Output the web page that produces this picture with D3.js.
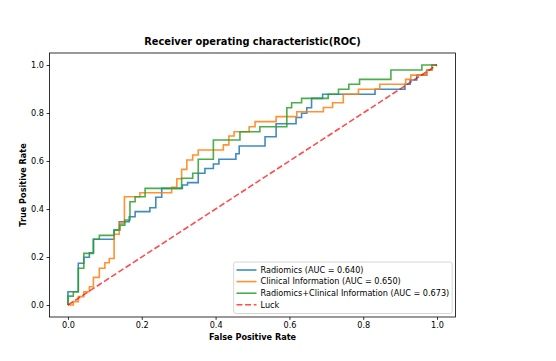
<!DOCTYPE html>
<html>
<head>
<meta charset="utf-8">
<script src="https://cdn.jsdelivr.net/npm/d3@7"></script>
<style>
  body { margin: 0; background: #fff; }
  text { font-family: "DejaVu Sans", sans-serif; fill: #000; }
</style>
</head>
<body>
<svg id="chart" width="556" height="361"></svg>
<script>
// ROC points (corner after each rise)
var radiomicsFpr = [0, 0, 0.028, 0.043, 0.058, 0.069, 0.125, 0.139, 0.166, 0.182, 0.222, 0.238, 0.254, 0.31, 0.324, 0.353, 0.371, 0.394, 0.409, 0.455, 0.464, 0.534, 0.564, 0.618, 0.633, 0.647, 0.66, 0.69, 0.832, 0.913, 0.927, 0.945, 0.972, 0.986, 1];
var radiomicsTpr = [0, 0.055, 0.174, 0.199, 0.218, 0.274, 0.3125, 0.347, 0.368, 0.389, 0.405, 0.449, 0.486, 0.5, 0.51, 0.549, 0.569, 0.5875, 0.607, 0.63, 0.6625, 0.701, 0.755, 0.781, 0.799, 0.822, 0.861, 0.878, 0.899, 0.92, 0.9375, 0.958, 0.979, 1, 1];

var clinicalFpr = [0, 0.0145, 0.028, 0.043, 0.058, 0.069, 0.085, 0.1, 0.112, 0.125, 0.139, 0.153, 0.195, 0.281, 0.295, 0.308, 0.322, 0.338, 0.353, 0.421, 0.436, 0.45, 0.491, 0.507, 0.564, 0.62, 0.692, 0.717, 0.746, 0.787, 0.845, 0.915, 0.929, 0.972, 0.986, 1];
var clinicalTpr = [0, 0.014, 0.035, 0.055, 0.076, 0.115, 0.153, 0.176, 0.194, 0.295, 0.34, 0.451, 0.468, 0.49, 0.526, 0.565, 0.604, 0.625, 0.646, 0.667, 0.704, 0.722, 0.743, 0.764, 0.785, 0.805, 0.823, 0.843, 0.878, 0.899, 0.92, 0.94, 0.958, 0.979, 1, 1];

var combinedFpr = [0, 0, 0.0145, 0.028, 0.043, 0.069, 0.085, 0.125, 0.141, 0.154, 0.168, 0.182, 0.209, 0.308, 0.338, 0.353, 0.394, 0.466, 0.52, 0.593, 0.606, 0.633, 0.705, 0.733, 0.761, 0.79, 0.875, 0.959, 1];
var combinedTpr = [0, 0.037, 0.055, 0.153, 0.215, 0.274, 0.29, 0.3125, 0.333, 0.354, 0.43, 0.451, 0.486, 0.528, 0.549, 0.607, 0.6875, 0.722, 0.743, 0.822, 0.843, 0.861, 0.878, 0.899, 0.92, 0.94, 0.979, 1, 1];

var seriesNames = ["Radiomics (AUC = 0.640)", "Clinical Information (AUC = 0.650)", "Radiomics+Clinical Information (AUC = 0.673)"];
var luckName = "Luck";
var ticks = [0, 0.2, 0.4, 0.6, 0.8, 1.0];
var colors = ["#1f77b4", "#ff7f0e", "#2ca02c"];

var svg = d3.select("#chart");

var x = d3.scaleLinear().domain([-0.05, 1.05]).range([49.5, 455.5]);
var y = d3.scaleLinear().domain([-0.05, 1.05]).range([317, 53]);

var fs = 8.15;

// axes
var xAxis = svg.append("g")
    .attr("transform", "translate(0,317)")
    .call(d3.axisBottom(x).tickValues(ticks).tickFormat(d3.format(".1f")).tickSize(2.9).tickSizeOuter(0).tickPadding(2.6));
var yAxis = svg.append("g")
    .attr("transform", "translate(49.5,0)")
    .call(d3.axisLeft(y).tickValues(ticks).tickFormat(d3.format(".1f")).tickSize(2.9).tickSizeOuter(0).tickPadding(2.6));

[xAxis, yAxis].forEach(function(g) {
  g.select(".domain").remove();
  g.selectAll("text").attr("font-size", fs).attr("font-family", "DejaVu Sans").attr("fill", "#000");
  g.selectAll("line").attr("stroke", "#000").attr("stroke-width", 0.8);
});

// curves
var line = d3.line()
    .x(function(d) { return x(d[0]); })
    .y(function(d) { return y(d[1]); })
    .curve(d3.curveStepAfter);

var series = [
  d3.zip(radiomicsFpr, radiomicsTpr),
  d3.zip(clinicalFpr, clinicalTpr),
  d3.zip(combinedFpr, combinedTpr)
];

svg.append("g")
  .selectAll("path")
  .data(series)
  .enter().append("path")
    .attr("d", line)
    .attr("fill", "none")
    .attr("stroke", function(d, i) { return colors[i]; })
    .attr("stroke-width", 1.6)
    .attr("stroke-opacity", 0.85);

svg.append("path")
    .attr("d", d3.line().x(d => x(d[0])).y(d => y(d[1]))([[0, 0], [1, 1]]))
    .attr("fill", "none")
    .attr("stroke", "#ff0000")
    .attr("stroke-opacity", 0.7)
    .attr("stroke-width", 1.6)
    .attr("stroke-dasharray", "6,2.6");

// frame
svg.append("rect")
    .attr("x", 49.5).attr("y", 53)
    .attr("width", 406).attr("height", 264)
    .attr("fill", "none")
    .attr("stroke", "#000")
    .attr("stroke-width", 0.8);

// titles
svg.append("text")
    .attr("x", 252.5).attr("y", 44.5)
    .attr("text-anchor", "middle")
    .attr("font-size", 9.8)
    .attr("font-weight", "bold")
    .text("Receiver operating characteristic(ROC)");

svg.append("text")
    .attr("x", 252.5).attr("y", 340)
    .attr("text-anchor", "middle")
    .attr("font-size", fs)
    .attr("font-weight", "bold")
    .text("False Positive Rate");

svg.append("text")
    .attr("transform", "translate(25.5,185) rotate(-90)")
    .attr("text-anchor", "middle")
    .attr("font-size", fs)
    .attr("font-weight", "bold")
    .text("True Positive Rate");

// legend
var legend = svg.append("g");
legend.append("rect")
    .attr("x", 233.7).attr("y", 262)
    .attr("width", 218.5).attr("height", 51.5)
    .attr("rx", 2)
    .attr("fill", "#fff").attr("fill-opacity", 0.8)
    .attr("stroke", "#ccc").attr("stroke-width", 0.8);

var items = legend.selectAll("g.item")
  .data(seriesNames.concat([luckName]))
  .enter().append("g")
    .attr("class", "item")
    .attr("transform", function(d, i) { return "translate(0," + (270 + i * 11.6) + ")"; });

items.append("line")
    .attr("x1", 236.5).attr("x2", 256.5)
    .attr("stroke", function(d, i) { return i < 3 ? colors[i] : "#ff0000"; })
    .attr("stroke-opacity", function(d, i) { return i < 3 ? 0.85 : 0.7; })
    .attr("stroke-width", 1.6)
    .attr("stroke-dasharray", function(d, i) { return i < 3 ? null : "6,2.6"; });

items.append("text")
    .attr("x", 260.5)
    .attr("dy", "0.35em")
    .attr("font-size", fs)
    .text(function(d) { return d; });
</script>
</body>
</html>
